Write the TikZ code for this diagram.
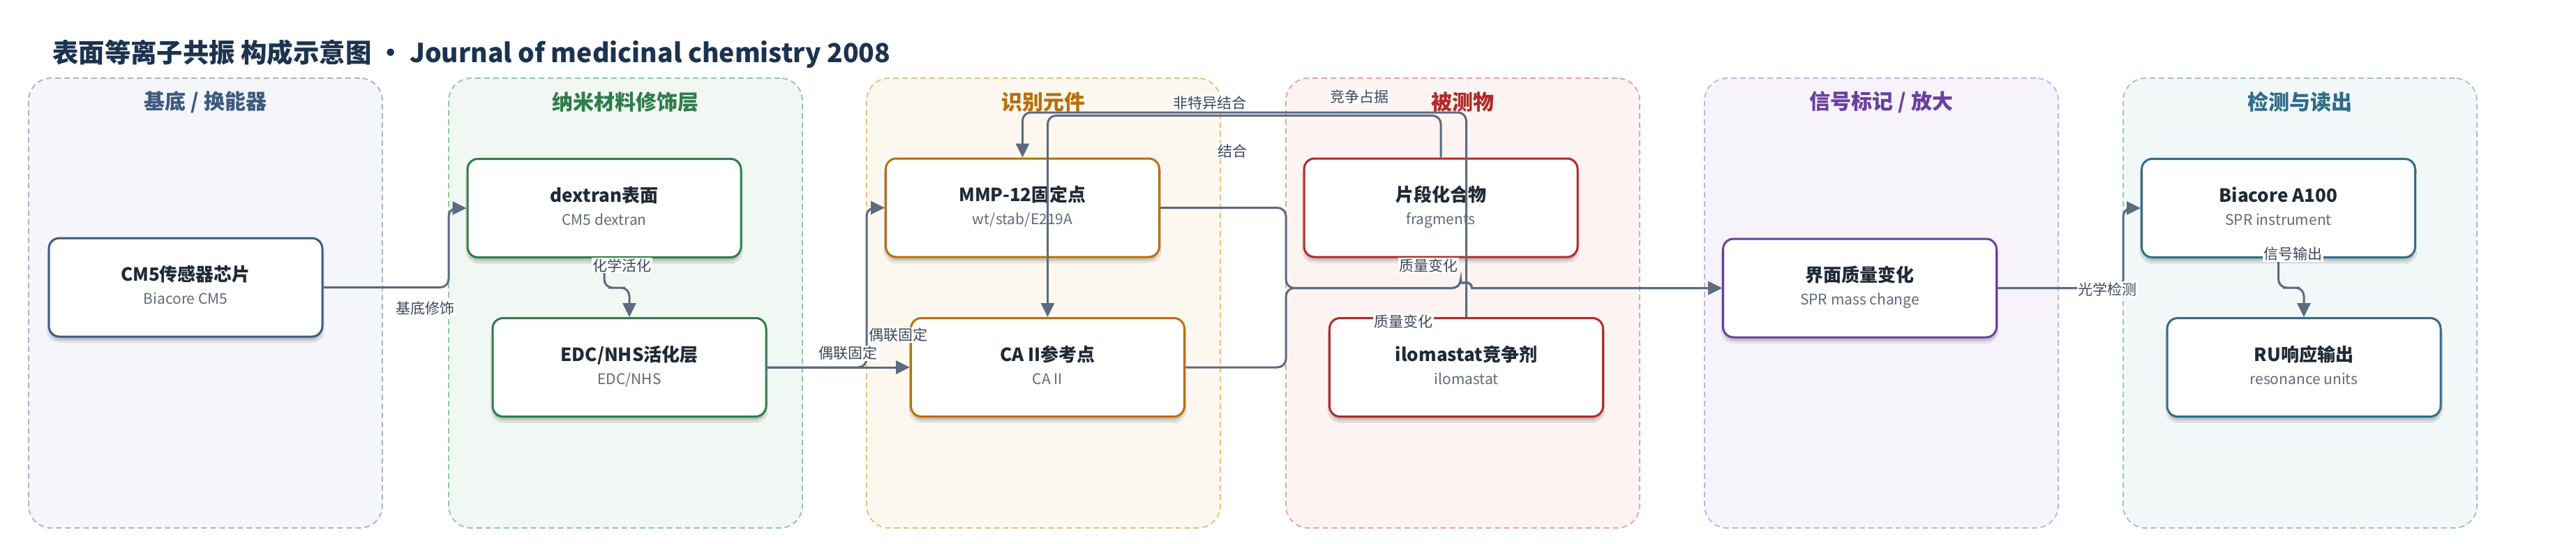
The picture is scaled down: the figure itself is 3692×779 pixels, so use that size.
\documentclass[tikz,border=0pt]{standalone}
\usepackage{fontspec}
\setmainfont{Noto Sans CJK SC}
\usetikzlibrary{arrows.meta,calc,shadows.blur}
\definecolor{edgec}{HTML}{5B6B80}
\definecolor{titlec}{HTML}{1C3350}
\definecolor{ttlc}{HTML}{1F2A36}
\definecolor{subc}{HTML}{5F6B7A}
\definecolor{lblc}{HTML}{3C4858}
\definecolor{fA}{HTML}{F4F6FA}\definecolor{dA}{HTML}{A7B4C6}\definecolor{tA}{HTML}{3D5A80}
\definecolor{fB}{HTML}{F1F8F3}\definecolor{dB}{HTML}{93C5A3}\definecolor{tB}{HTML}{2E7D4A}
\definecolor{fC}{HTML}{FDF8EF}\definecolor{dC}{HTML}{E5BF80}\definecolor{tC}{HTML}{B8700A}
\definecolor{fD}{HTML}{FDF3F2}\definecolor{dD}{HTML}{E6A3A3}\definecolor{tD}{HTML}{B22A2A}
\definecolor{fE}{HTML}{F7F3FB}\definecolor{dE}{HTML}{C6B0DE}\definecolor{tE}{HTML}{6A3FA0}
\definecolor{fF}{HTML}{F2F7F8}\definecolor{dF}{HTML}{9FC0CC}\definecolor{tF}{HTML}{2F6D89}
\tikzset{
  lane/.style={rectangle, rounded corners=32pt, dashed, dash pattern=on 8pt off 5pt, line width=1.8pt,
    minimum width=507pt, minimum height=644pt, inner sep=0pt, outer sep=0pt},
  lanetitle/.style={font=\fontsize{30}{34}\selectfont\bfseries, inner sep=0pt},
  box/.style={rectangle, rounded corners=15pt, line width=3pt, fill=white,
    minimum width=392pt, minimum height=141pt, inner sep=0pt,
    blur shadow={shadow xshift=0pt, shadow yshift=-6pt, shadow blur steps=6, shadow opacity=22}},
  ttl/.style={font=\fontsize{26}{30}\selectfont\bfseries, text=ttlc, inner sep=0pt, text height=0.8em, text depth=0.2em},
  sub/.style={font=\fontsize{21}{25}\selectfont, text=subc, inner sep=0pt, text height=0.8em, text depth=0.2em},
  edge/.style={draw=edgec, line width=3pt, rounded corners=12pt, -{Triangle[length=20pt,width=19pt]}},
  lbl/.style={fill=white, text=lblc, font=\fontsize{21}{25}\selectfont, inner sep=1.5pt}
}
\newcommand\mkbox[6]{%
  \node[box, draw=#4] (#1) at (#2,#3) {};
  \node[ttl] (#1t) at ([yshift=12pt]#1.center) {#5};
  \node[sub] (#1s) at ([yshift=-21pt]#1.center) {#6};
}
\begin{document}
\begin{tikzpicture}[x=1pt,y=-1pt]
\useasboundingbox (0,0) rectangle (3692,779);
\fill[white] (0,0) rectangle (3692,779);

\node[anchor=west, text=titlec, font=\fontsize{37.4}{43}\selectfont\bfseries, inner sep=0pt] (title) at (75,77)
  {表面等离子共振 构成示意图 · Journal of medicinal chemistry 2008};

% lanes
\node[lane, fill=fA, draw=dA] (L1) at (294.5,434) {};
\node[lane, fill=fB, draw=dB] (L2) at (896.5,434) {};
\node[lane, fill=fC, draw=dC] (L3) at (1495.5,434) {};
\node[lane, fill=fD, draw=dD] (L4) at (2096.5,434) {};
\node[lane, fill=fE, draw=dE] (L5) at (2696.5,434) {};
\node[lane, fill=fF, draw=dF] (L6) at (3296.5,434) {};
\node[lanetitle, text=tA] (L1t) at (294.5,146) {基底 / 换能器};
\node[lanetitle, text=tB] (L2t) at (896.5,146) {纳米材料修饰层};
\node[lanetitle, text=tC] (L3t) at (1495.5,146) {识别元件};
\node[lanetitle, text=tD] (L4t) at (2096.5,146) {被测物};
\node[lanetitle, text=tE] (L5t) at (2696.5,146) {信号标记 / 放大};
\node[lanetitle, text=tF] (L6t) at (3296.5,146) {检测与读出};

% nodes
\mkbox{cm5}{266}{411.5}{tA}{CM5传感器芯片}{Biacore CM5}
\mkbox{dex}{866}{298}{tB}{dextran表面}{CM5 dextran}
\mkbox{edc}{902}{526}{tB}{EDC/NHS活化层}{EDC/NHS}
\mkbox{mmp}{1465.5}{297.5}{tC}{MMP-12固定点}{wt/stab/E219A}
\mkbox{ca}{1501.5}{526}{tC}{CA II参考点}{CA II}
\mkbox{frag}{2065}{297.5}{tD}{片段化合物}{fragments}
\mkbox{ilo}{2101.5}{526}{tD}{ilomastat竞争剂}{ilomastat}
\mkbox{mass}{2665.5}{412.5}{tE}{界面质量变化}{SPR mass change}
\mkbox{bia}{3265.5}{298}{tF}{Biacore A100}{SPR instrument}
\mkbox{ru}{3302}{526}{tF}{RU响应输出}{resonance units}

% connectors
\draw[edge] (cm5.east) -- (cm5.east -| L2.west) |- (dex.west);
\draw[edge] (dex.south) |- ($(dex.south)!.5!(edc.north)$) -| (edc.north);
\draw[edge] (edc.east) -- (ca.west);
\draw[edge] (edc.east) -- (edc.east -| L3.west) |- (mmp.west);
\coordinate (hopL) at ($(ilo.north |- mass.west)+(-8pt,0)$);
\draw[edge] (mmp.east) -- (mmp.east -| L4.west) -- (L4.west |- mass.west) -- (hopL) [sharp corners] arc[start angle=180,end angle=0,radius=8pt] -- (mass.west);
\draw[edge] (ca.east) -- (ca.east -| L4.west) -- (L4.west |- mass.west) -- (hopL) [sharp corners] arc[start angle=180,end angle=0,radius=8pt] -- (mass.west);
\draw[edge] (frag.north) -- ++(0,-60) -| (ca.north);
\draw[edge] (ilo.north) -- ++(0,-293) -| (mmp.north);
\draw[edge] (mass.east) -- (mass.east -| L6.west) |- (bia.west);
\draw[edge] (bia.south) |- ($(bia.south)!.5!(ru.north)$) -| (ru.north);

% labels
\node[lbl] (e1) at (609,442) {基底修饰};
\node[lbl] (e2) at (891,380) {化学活化};
\node[lbl] (e3) at (1215,506) {偶联固定};
\node[lbl] (e4) at (1287,480) {偶联固定};
\node[lbl] (e5) at (1734,148) {非特异结合};
\node[lbl] (e6) at (1948,138) {竞争占据};
\node[lbl] (e7) at (1766,216) {结合};
\node[lbl] (e8) at (2047,380) {质量变化};
\node[lbl] (e9) at (2011,460) {质量变化};
\node[lbl] (e10) at (3020,414) {光学检测};
\node[lbl] (e11) at (3286,364) {信号输出};
\end{tikzpicture}
\end{document}
